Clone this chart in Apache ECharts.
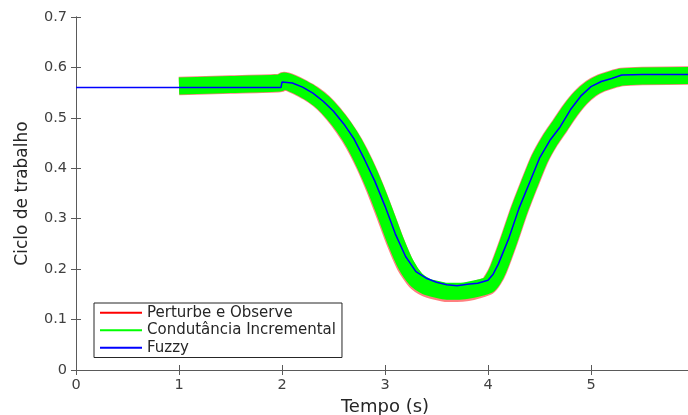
<!DOCTYPE html>
<html>
<head>
<meta charset="utf-8">
<script src="https://cdn.jsdelivr.net/npm/echarts@6/dist/echarts.min.js"></script>
<style>
  html, body { margin: 0; padding: 0; background: #fff; }
  #chart { width: 688px; height: 415px; }
</style>
</head>
<body>
<div id="chart"></div>
<script>
var chartDom = document.getElementById('chart');
var myChart = echarts.init(chartDom);

// Fuzzy (blue)
const tempoFuzzy = [0, 1.99, 2.0, 2.1, 2.2, 2.3, 2.4, 2.5, 2.6, 2.7, 2.8, 2.9, 3.0, 3.1, 3.2, 3.3, 3.4, 3.5, 3.6, 3.7,
    3.8, 3.9, 4.0, 4.05, 4.1, 4.2, 4.3, 4.4, 4.5, 4.6, 4.7, 4.8, 4.9, 5.0, 5.1, 5.2, 5.3, 5.5, 6.0];
const cicloFuzzy = [0.560, 0.560, 0.571, 0.569, 0.561, 0.549, 0.533, 0.513, 0.488, 0.458, 0.418, 0.375, 0.325, 0.270, 0.225, 0.195, 0.182, 0.174, 0.169, 0.167,
    0.170, 0.172, 0.178, 0.190, 0.210, 0.260, 0.320, 0.370, 0.420, 0.455, 0.482, 0.516, 0.543, 0.562, 0.572, 0.578, 0.585, 0.586, 0.586];

// P&O (red) and Condutancia Incremental (green) - noisy, drawn as thick bands
const tempoRuido = [1.0, 1.5, 1.98, 2.02, 2.1, 2.2, 2.3, 2.4, 2.5, 2.6, 2.7, 2.8, 2.9, 3.0, 3.1, 3.2, 3.3, 3.4, 3.5, 3.6,
    3.7, 3.8, 3.9, 4.0, 4.05, 4.1, 4.2, 4.3, 4.4, 4.5, 4.6, 4.7, 4.8, 4.9, 5.0, 5.1, 5.2, 5.3, 5.5, 6.0];
const cicloIncCond = [0.563, 0.566, 0.569, 0.573, 0.568, 0.558, 0.546, 0.530, 0.508, 0.482, 0.450, 0.410, 0.364, 0.312, 0.257, 0.210, 0.180, 0.166, 0.160, 0.156,
    0.156, 0.158, 0.162, 0.168, 0.180, 0.200, 0.255, 0.315, 0.368, 0.418, 0.455, 0.485, 0.515, 0.540, 0.558, 0.569, 0.576, 0.581, 0.583, 0.584];
const cicloPO = [0.563, 0.566, 0.569, 0.573, 0.568, 0.558, 0.546, 0.530, 0.508, 0.481, 0.449, 0.409, 0.362, 0.309, 0.254, 0.207, 0.177, 0.163, 0.157, 0.153,
    0.153, 0.155, 0.160, 0.167, 0.180, 0.200, 0.255, 0.315, 0.368, 0.418, 0.455, 0.485, 0.515, 0.540, 0.558, 0.569, 0.576, 0.581, 0.583, 0.584];

const xTicks = [0, 6, 1];        // min, max, interval
const yTicks = [0, 0.7, 0.1];

const axisCor = '#5a5a5a';
const textoCor = '#404040';

function pares(xs, ys) {
    return xs.map((x, i) => [x, ys[i]]);
}

var option = {
    animation: false,
    backgroundColor: '#fff',
    grid: {
        left: 76,
        top: 17,
        width: 618,
        height: 353,
        containLabel: false,
        outerBoundsMode: 'none'
    },
    legend: {
        orient: 'vertical',
        left: 94,
        top: 303,
        icon: 'rect',
        itemWidth: 42,
        itemHeight: 2,
        itemGap: 2,
        padding: [2, 6, 2, 6],
        backgroundColor: '#fff',
        borderColor: '#262626',
        borderWidth: 1,
        borderRadius: 0,
        textStyle: {
            color: '#262626',
            fontFamily: 'DejaVu Sans',
            fontSize: 15,
            lineHeight: 15.5
        },
        data: ['Perturbe e Observe', 'Condutância Incremental', 'Fuzzy']
    },
    xAxis: [
        {
            type: 'value',
            min: xTicks[0],
            max: xTicks[1],
            interval: xTicks[2],
            name: 'Tempo (s)',
            nameLocation: 'middle',
            nameGap: 26,
            nameTextStyle: {
                color: '#262626',
                fontFamily: 'DejaVu Sans',
                fontSize: 18
            },
            axisLine: { lineStyle: { color: axisCor, width: 1 } },
            axisTick: { inside: true, length: 5, lineStyle: { color: axisCor } },
            axisLabel: {
                color: textoCor,
                fontFamily: 'DejaVu Sans',
                fontSize: 14.5,
                margin: 8
            },
            splitLine: { show: false }
        },
        {
            type: 'value',
            position: 'top',
            min: xTicks[0],
            max: xTicks[1],
            interval: xTicks[2],
            axisLine: { show: true, lineStyle: { color: axisCor, width: 1 } },
            axisTick: { show: true, inside: true, length: 5, lineStyle: { color: axisCor } },
            axisLabel: { show: false },
            splitLine: { show: false }
        }
    ],
    yAxis: [
        {
            type: 'value',
            min: yTicks[0],
            max: yTicks[1],
            interval: yTicks[2],
            name: 'Ciclo de trabalho',
            nameLocation: 'middle',
            nameGap: 45,
            nameTextStyle: {
                color: '#262626',
                fontFamily: 'DejaVu Sans',
                fontSize: 17
            },
            axisLine: { show: true, lineStyle: { color: axisCor, width: 1 } },
            axisTick: { show: true, inside: true, length: 5, lineStyle: { color: axisCor } },
            axisLabel: {
                color: textoCor,
                fontFamily: 'DejaVu Sans',
                fontSize: 14.5,
                margin: 9
            },
            splitLine: { show: false }
        },
        {
            type: 'value',
            position: 'right',
            min: yTicks[0],
            max: yTicks[1],
            interval: yTicks[2],
            axisLine: { show: true, lineStyle: { color: axisCor, width: 1 } },
            axisTick: { show: true, inside: true, length: 5, lineStyle: { color: axisCor } },
            axisLabel: { show: false },
            splitLine: { show: false }
        }
    ],
    series: [
        {
            name: 'Perturbe e Observe',
            type: 'line',
            data: pares(tempoRuido, cicloPO),
            showSymbol: false,
            smooth: 0.2,
            color: '#ff0000',
            lineStyle: { width: 18.5, color: '#ff0000', opacity: 0.5, cap: 'butt', join: 'round' },
            z: 1
        },
        {
            name: 'Condutância Incremental',
            type: 'line',
            data: pares(tempoRuido, cicloIncCond),
            showSymbol: false,
            smooth: 0.2,
            color: '#00ff00',
            lineStyle: { width: 17, color: '#00ff00', cap: 'butt', join: 'round' },
            z: 2
        },
        {
            name: 'Fuzzy',
            type: 'line',
            data: pares(tempoFuzzy, cicloFuzzy),
            showSymbol: false,
            color: '#0000ff',
            lineStyle: { width: 1.5, color: '#0000ff' },
            z: 3
        }
    ]
};

option && myChart.setOption(option);
</script>
</body>
</html>
